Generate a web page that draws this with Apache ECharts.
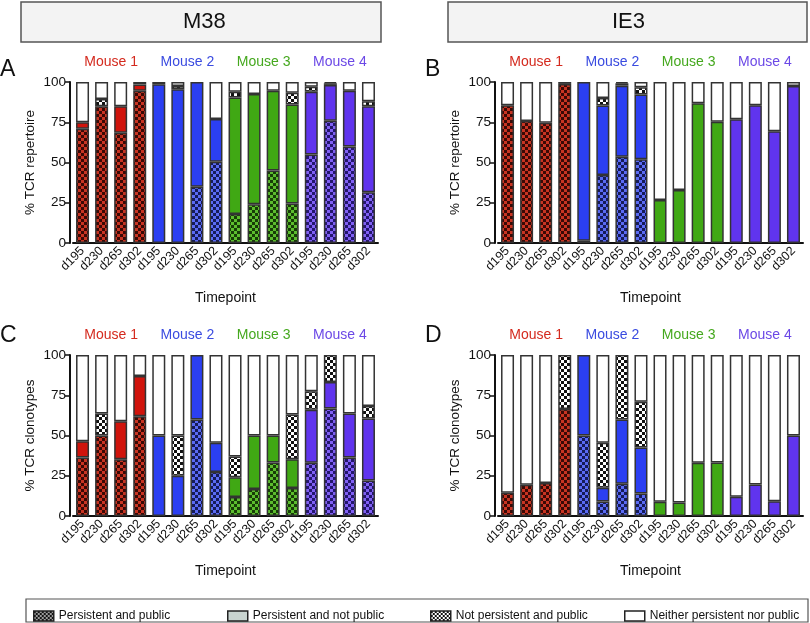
<!DOCTYPE html>
<html><head><meta charset="utf-8">
<script src="https://cdn.jsdelivr.net/npm/echarts@6/dist/echarts.min.js"></script>
<style>html,body{margin:0;padding:0;background:#fff}#c{width:810px;height:623px}</style>
</head><body><div id="c"></div>
<script>
// ---------- data ----------
const timepoints = ['d195','d230','d265','d302'];
const mice = ['Mouse 1','Mouse 2','Mouse 3','Mouse 4'];
const categories = ['d195','d230','d265','d302','d195','d230','d265','d302','d195','d230','d265','d302','d195','d230','d265','d302'];
const segmentNames = ['Persistent and public','Persistent and not public','Not persistent and public','Neither persistent nor public'];
const yTicks = [0,25,50,75,100];

// Panel A: M38, % TCR repertoire
const A_persPublic    = [71, 85, 68.5, 94.5,   0, 0, 35, 50.5,   18, 24, 45, 24.5,   55, 76, 60, 31.5];
const A_persNotPublic = [4, 0, 16.5, 4,   98.6, 95.5, 65, 26.5,   72.3, 68.5, 49.5, 61.5,   39, 22.2, 34.6, 53.5];
const A_notPersPublic = [0, 4.5, 0, 0,   0, 2, 0, 0,   3.7, 0, 0, 7.3,   3, 1, 0, 3];
const A_neither       = [25, 10.5, 15, 1.5,   1.4, 2.5, 0, 23,   6, 7.5, 5.5, 6.7,   3, 0.8, 5.4, 12];

// Panel B: IE3, % TCR repertoire
const B_persPublic    = [85.5, 75.7, 74.7, 98.8,   1.4, 42.2, 53.5, 52,   0, 0, 0, 0,   0, 0, 0, 0];
const B_persNotPublic = [0, 0, 0, 0,   98.6, 43.2, 44.2, 40.2,   26.7, 32.9, 86.8, 75.3,   76.9, 85.5, 69.4, 97.5];
const B_notPersPublic = [0, 0, 0, 0,   0, 4.7, 1.5, 4.5,   0, 0, 0, 0,   0, 0, 0, 0];
const B_neither       = [14.5, 24.3, 25.3, 1.2,   0, 9.9, 0.8, 3.3,   73.3, 67.1, 13.2, 24.7,   23.1, 14.5, 30.6, 2.5];

// Panel C: M38, % TCR clonotypes
const C_persPublic    = [36.4, 50, 35.3, 62,   0, 0, 60, 27.3,   11.8, 16.7, 33.3, 17.4,   33, 66.7, 36.4, 22.1];
const C_persNotPublic = [10.1, 0, 23.5, 25,   50, 25, 40, 18.2,   12.2, 33.3, 16.7, 17.9,   33, 16.6, 27.2, 38.4];
const C_notPersPublic = [0, 13.6, 0, 0,   0, 25, 0, 0,   13, 0, 0, 27.7,   11.5, 16.7, 0, 7.9];
const C_neither       = [53.5, 36.4, 41.2, 13,   50, 50, 0, 54.5,   63, 50, 50, 37,   22.5, 0, 36.4, 31.6];

// Panel D: IE3, % TCR clonotypes
const D_persPublic    = [14.5, 19.4, 20.5, 66.5,   50, 9, 20, 14,   0, 0, 0, 0,   0, 0, 0, 0];
const D_persNotPublic = [0, 0, 0, 0,   50, 8.5, 40, 28.5,   8.8, 8.4, 33, 33.3,   12, 19.5, 9.2, 50];
const D_notPersPublic = [0, 0, 0, 33.5,   0, 28, 40, 28.5,   0, 0, 0, 0,   0, 0, 0, 0];
const D_neither       = [85.5, 80.6, 79.5, 0,   0, 54.5, 0, 29,   91.2, 91.6, 67, 66.7,   88, 80.5, 90.8, 50];

const panels = [
  {letter:'A', yName:'% TCR repertoire', segs:[A_persPublic,A_persNotPublic,A_notPersPublic,A_neither]},
  {letter:'B', yName:'% TCR repertoire', segs:[B_persPublic,B_persNotPublic,B_notPersPublic,B_neither]},
  {letter:'C', yName:'% TCR clonotypes', segs:[C_persPublic,C_persNotPublic,C_notPersPublic,C_neither]},
  {letter:'D', yName:'% TCR clonotypes', segs:[D_persPublic,D_persNotPublic,D_notPersPublic,D_neither]}
];

// ---------- styling ----------
const mouseSolid = ['#d0140c','#2b3ff2','#40a814','#6034ee'];
const mouseDark  = ['#3a0905','#151b58','#173d07','#24166e'];
const mouseLight = ['#c83422','#5a6bf4','#5cbd2e','#8060f4'];
const mouseText  = ['#d42a1e','#3a4be0','#45a81e','#6b48e6'];
const FONT = 'Liberation Sans, Arial, sans-serif';

function checker(c1, c2, s){
  const cv = document.createElement('canvas');
  cv.width = cv.height = s*2;
  const g = cv.getContext('2d');
  g.fillStyle = c1; g.fillRect(0,0,s*2,s*2);
  g.fillStyle = c2; g.fillRect(0,0,s,s); g.fillRect(s,s,s,s);
  return {image: cv, repeat: 'repeat'};
}
const mouseChecker = mouseSolid.map((c,i)=>checker(mouseLight[i], mouseDark[i], 3));
const bwChecker = checker('#ffffff', '#111111', 3);
const legendPP = checker('#9a9a9a', '#151515', 2);
const legendNPP = checker('#ffffff', '#111111', 2);

function segColor(seg, m){
  if (seg === 0) return mouseChecker[m];
  if (seg === 1) return mouseSolid[m];
  if (seg === 2) return bwChecker;
  return '#ffffff';
}

const grids = [
  {left:73, top:82, width:305, height:161},
  {left:498, top:82, width:305, height:161},
  {left:73, top:355, width:305, height:161},
  {left:498, top:355, width:305, height:161}
];

const xAxes = [], yAxes = [], series = [];
panels.forEach((p, k) => {
  xAxes.push({
    type:'category', gridIndex:k, data:categories, position:'bottom',
    axisLine:{lineStyle:{color:'#111', width:2}},
    axisTick:{alignWithLabel:true, length:5, lineStyle:{color:'#111', width:1.5}},
    axisLabel:{rotate:45, fontSize:12.5, color:'#111', fontFamily:FONT, margin:6, interval:0},
    name:'Timepoint', nameLocation:'middle', nameGap:48,
    nameTextStyle:{fontSize:14, color:'#111', fontFamily:FONT}
  });
  yAxes.push({
    type:'value', gridIndex:k, min:0, max:100, interval:25, offset:3,
    axisLine:{show:true, lineStyle:{color:'#111', width:2}},
    axisTick:{show:true, length:5, lineStyle:{color:'#111', width:1.5}},
    splitLine:{show:false},
    axisLabel:{fontSize:13.5, color:'#111', fontFamily:FONT, margin:4},
    name:p.yName, nameLocation:'middle', nameGap:33,
    nameTextStyle:{fontSize:13.5, color:'#111', fontFamily:FONT}
  });
  p.segs.forEach((vals, s) => {
    series.push({
      type:'bar', name:segmentNames[s], xAxisIndex:k, yAxisIndex:k, stack:'p'+k,
      barWidth:13, animation:false,
      itemStyle:{color: s===0?legendPP:(s===1?'#c9d4d0':(s===2?legendNPP:'#fff')), borderColor:'#333', borderWidth:1.5},
      data: vals.map((v,i)=> v===0 ? '-' : {value:v, itemStyle:{color:segColor(s, Math.floor(i/4))}})
    });
  });
});
// top axes carrying the mouse labels
panels.forEach((p,k)=>{
  xAxes.push({
    type:'category', gridIndex:k, data:mice, position:'top',
    axisLine:{show:false}, axisTick:{show:false},
    axisLabel:{fontSize:14, fontFamily:FONT, margin:13, color:(v,i)=>mouseText[mice.indexOf(v)]}
  });
});

const legendLefts = [28, 222, 425, 619];
const legends = segmentNames.map((n,i)=>({
  left:legendLefts[i], top:605, orient:'horizontal', icon:'rect',
  itemWidth:20, itemHeight:10, selectedMode:false,
  textStyle:{fontSize:12, color:'#111', fontFamily:FONT},
  data:[{name:n, itemStyle:{color:[legendPP,'#c9d4d0',legendNPP,'#ffffff'][i], borderColor:'#222', borderWidth:1.5}}]
}));

const graphics = [
  {type:'rect', shape:{x:21,y:2,width:360,height:40}, style:{fill:'#f3f3f3', stroke:'#555', lineWidth:1.5}},
  {type:'rect', shape:{x:448,y:2,width:359,height:40}, style:{fill:'#f3f3f3', stroke:'#555', lineWidth:1.5}},
  {type:'text', left:201-18, top:11, style:{text:'M38', fontSize:22, fontFamily:'Liberation Sans Narrow, Arial Narrow, sans-serif', fill:'#111'}},
  {type:'text', left:627-15, top:11, style:{text:'IE3', fontSize:22, fontFamily:'Liberation Sans Narrow, Arial Narrow, sans-serif', fill:'#111'}},
  {type:'rect', shape:{x:26,y:599,width:782,height:23}, style:{fill:'none', stroke:'#555', lineWidth:1.2}},
  {type:'text', left:0, top:58, style:{text:'A', fontSize:23, fontFamily:FONT, fill:'#111'}},
  {type:'text', left:425, top:58, style:{text:'B', fontSize:23, fontFamily:FONT, fill:'#111'}},
  {type:'text', left:0, top:324, style:{text:'C', fontSize:23, fontFamily:FONT, fill:'#111'}},
  {type:'text', left:425, top:324, style:{text:'D', fontSize:23, fontFamily:FONT, fill:'#111'}}
];

const chart = echarts.init(document.getElementById('c'), null, {renderer:'canvas'});
chart.setOption({
  backgroundColor:'#fff',
  animation:false,
  grid:grids, xAxis:xAxes, yAxis:yAxes, series:series,
  legend:legends,
  graphic:graphics
});
</script></body></html>
